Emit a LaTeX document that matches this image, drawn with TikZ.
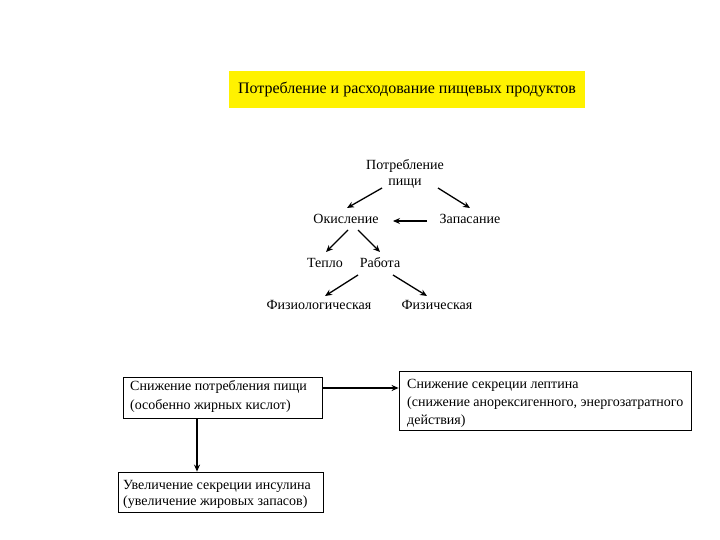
\documentclass[tikz,border=0pt]{standalone}
\usepackage{fontspec}
\setmainfont{Liberation Serif}
\usetikzlibrary{arrows.meta,calc}
\begin{document}
\begin{tikzpicture}[x=1pt,y=-1pt,
  lbl/.style={inner sep=0pt,font=\fontsize{14}{16}\selectfont},
  arr/.style={-{Stealth[length=7pt,width=6pt]},line width=1.3pt},
  frame/.style={draw,line width=0.8pt,inner sep=0pt},
  btxt/.style={anchor=west,inner sep=0pt,align=left}]
\useasboundingbox (0,0) rectangle (720,540);
\node[fill=yellow,minimum width=356pt,minimum height=37pt,inner sep=0pt,font=\fontsize{16}{18}\selectfont] (title) at (407,89.5) {Потребление и расходование пищевых продуктов};
\node[lbl,align=center,font=\fontsize{14}{16}\selectfont] (potr) at (405,174) {Потребление\\пищи};
\node[lbl] (okisl) at (346,219) {Окисление};
\node[lbl] (zapas) at (470,219) {Запасание};
\node[lbl] (teplo) at (325,263) {Тепло};
\node[lbl] (rabota) at (380,263) {Работа};
\node[lbl] (fiziol) at (319,305) {Физиологическая};
\node[lbl] (fizich) at (437,305) {Физическая};
\draw[arr] ($(potr.center)+(-23,14)$) -- ($(okisl.center)+(1,-11)$);
\draw[arr] ($(potr.center)+(33,14)$) -- ($(zapas.center)+(0,-11)$);
\draw[arr] ($(zapas.center)+(-43,2)$) -- ($(okisl.center)+(47,2)$);
\draw[arr] ($(okisl.center)+(2,11)$) -- ($(teplo.center)+(1,-11)$);
\draw[arr] ($(okisl.center)+(12,11)$) -- ($(rabota.center)+(0,-11)$);
\draw[arr] ($(rabota.center)+(-22,12)$) -- ($(fiziol.center)+(6,-9)$);
\draw[arr] ($(rabota.center)+(13,12)$) -- ($(fizich.center)+(-10,-9)$);
\node[frame,minimum width=199pt,minimum height=41pt] (b1) at (222.5,397.5) {};
\node[btxt,font=\fontsize{14}{19}\selectfont] (t1) at (130,396) {Снижение потребления пищи\\(особенно жирных кислот)};
\node[frame,minimum width=205pt,minimum height=40pt] (b2) at (220.5,492) {};
\node[btxt,font=\fontsize{14}{16}\selectfont] (t2) at (123,494.5) {Увеличение секреции инсулина\\(увеличение жировых запасов)};
\node[frame,minimum width=292pt,minimum height=59pt] (b3) at (545,400.5) {};
\node[btxt,font=\fontsize{14}{18}\selectfont] (t3) at (407,403) {Снижение секреции лептина\\(снижение анорексигенного, энергозатратного\\действия)};
\draw[arr] (b1.south -| 197,0) -- (b2.north -| 197,0);
\draw[arr] (b1.east |- 0,388) -- (b3.west |- 0,388);
\end{tikzpicture}
\end{document}
